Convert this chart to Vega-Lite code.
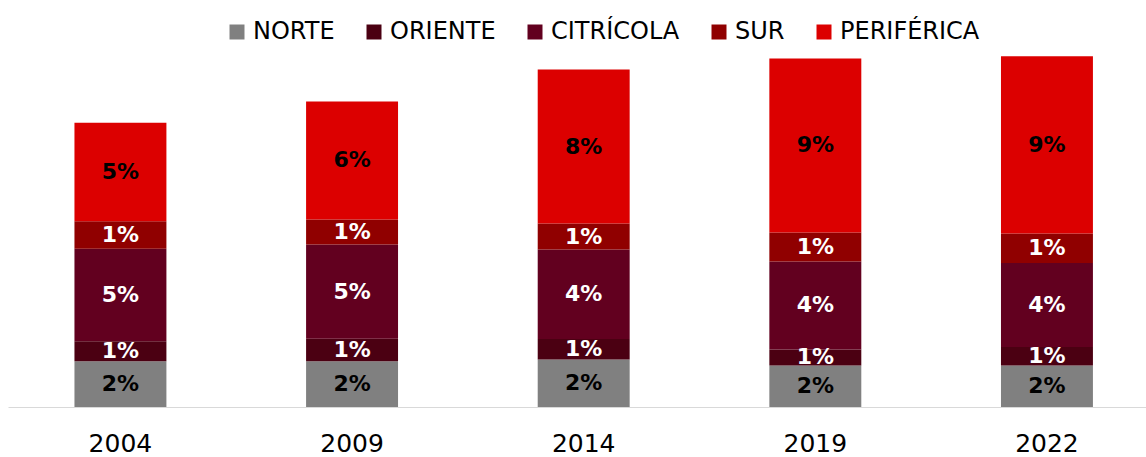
{
  "$schema": "https://vega.github.io/schema/vega-lite/v6.json",
  "width": 1138,
  "height": 407,
  "autosize": "none",
  "padding": {"left": 8, "top": 0, "right": 0, "bottom": 50},
  "background": "white",
  "config": {"view": {"stroke": null}, "font": "DejaVu Sans"},
  "data": {
    "values": [
      {"year": "2004", "region": "NORTE", "orden": 1, "value": 0.0229},
      {"year": "2004", "region": "ORIENTE", "orden": 2, "value": 0.0100},
      {"year": "2004", "region": "CITRÍCOLA", "orden": 3, "value": 0.0462},
      {"year": "2004", "region": "SUR", "orden": 4, "value": 0.0138},
      {"year": "2004", "region": "PERIFÉRICA", "orden": 5, "value": 0.0492},
      {"year": "2009", "region": "NORTE", "orden": 1, "value": 0.0229},
      {"year": "2009", "region": "ORIENTE", "orden": 2, "value": 0.0112},
      {"year": "2009", "region": "CITRÍCOLA", "orden": 3, "value": 0.0472},
      {"year": "2009", "region": "SUR", "orden": 4, "value": 0.0125},
      {"year": "2009", "region": "PERIFÉRICA", "orden": 5, "value": 0.0590},
      {"year": "2014", "region": "NORTE", "orden": 1, "value": 0.0238},
      {"year": "2014", "region": "ORIENTE", "orden": 2, "value": 0.0102},
      {"year": "2014", "region": "CITRÍCOLA", "orden": 3, "value": 0.0447},
      {"year": "2014", "region": "SUR", "orden": 4, "value": 0.0130},
      {"year": "2014", "region": "PERIFÉRICA", "orden": 5, "value": 0.0770},
      {"year": "2019", "region": "NORTE", "orden": 1, "value": 0.0208},
      {"year": "2019", "region": "ORIENTE", "orden": 2, "value": 0.0080},
      {"year": "2019", "region": "CITRÍCOLA", "orden": 3, "value": 0.0440},
      {"year": "2019", "region": "SUR", "orden": 4, "value": 0.0145},
      {"year": "2019", "region": "PERIFÉRICA", "orden": 5, "value": 0.0870},
      {"year": "2022", "region": "NORTE", "orden": 1, "value": 0.0208},
      {"year": "2022", "region": "ORIENTE", "orden": 2, "value": 0.0092},
      {"year": "2022", "region": "CITRÍCOLA", "orden": 3, "value": 0.0420},
      {"year": "2022", "region": "SUR", "orden": 4, "value": 0.0147},
      {"year": "2022", "region": "PERIFÉRICA", "orden": 5, "value": 0.0887}
    ]
  },
  "transform": [
    {"stack": "value", "groupby": ["year"], "sort": [{"field": "orden", "order": "ascending"}], "as": ["v0", "v1"]},
    {"calculate": "(datum.v0 + datum.v1) / 2", "as": "mid"}
  ],
  "encoding": {
    "x": {
      "field": "year",
      "type": "nominal",
      "scale": {"paddingInner": 0.603, "paddingOuter": 0.258, "align": 0.556},
      "axis": {
        "title": null,
        "labelAngle": 0,
        "labelFont": "DejaVu Sans",
        "labelFontSize": 25,
        "labelColor": "#000000",
        "labelPadding": 24,
        "ticks": false,
        "domainColor": "#d9d9d9",
        "domainWidth": 1
      }
    }
  },
  "layer": [
    {
      "mark": {"type": "bar"},
      "encoding": {
        "y": {"field": "v0", "type": "quantitative", "scale": {"domain": [0, 0.2035], "nice": false, "zero": true}, "axis": null},
        "y2": {"field": "v1"},
        "color": {
          "field": "region",
          "type": "nominal",
          "scale": {
            "domain": ["NORTE", "ORIENTE", "CITRÍCOLA", "SUR", "PERIFÉRICA"],
            "range": ["#808080", "#4b0012", "#62001f", "#900000", "#dc0000"]
          },
          "legend": {
            "title": null,
            "orient": "none",
            "direction": "horizontal",
            "legendX": 217,
            "legendY": 20,
            "padding": 0,
            "symbolType": "square",
            "symbolSize": 225,
            "symbolStrokeWidth": 0,
            "labelFont": "DejaVu Sans",
            "labelFontSize": 24,
            "labelColor": "#000000",
            "labelOffset": 4,
            "columnPadding": 27,
            "labelLimit": 300
          }
        }
      }
    },
    {
      "mark": {"type": "text", "font": "DejaVu Sans", "fontWeight": "bold", "fontSize": 22, "baseline": "middle", "align": "center"},
      "encoding": {
        "y": {"field": "mid", "type": "quantitative", "scale": {"domain": [0, 0.2035], "nice": false}},
        "text": {"field": "value", "type": "quantitative", "format": ".0%"},
        "color": {
          "condition": {"test": "datum.region === 'NORTE' || datum.region === 'PERIFÉRICA'", "value": "#000000"},
          "value": "#ffffff"
        }
      }
    }
  ]
}
